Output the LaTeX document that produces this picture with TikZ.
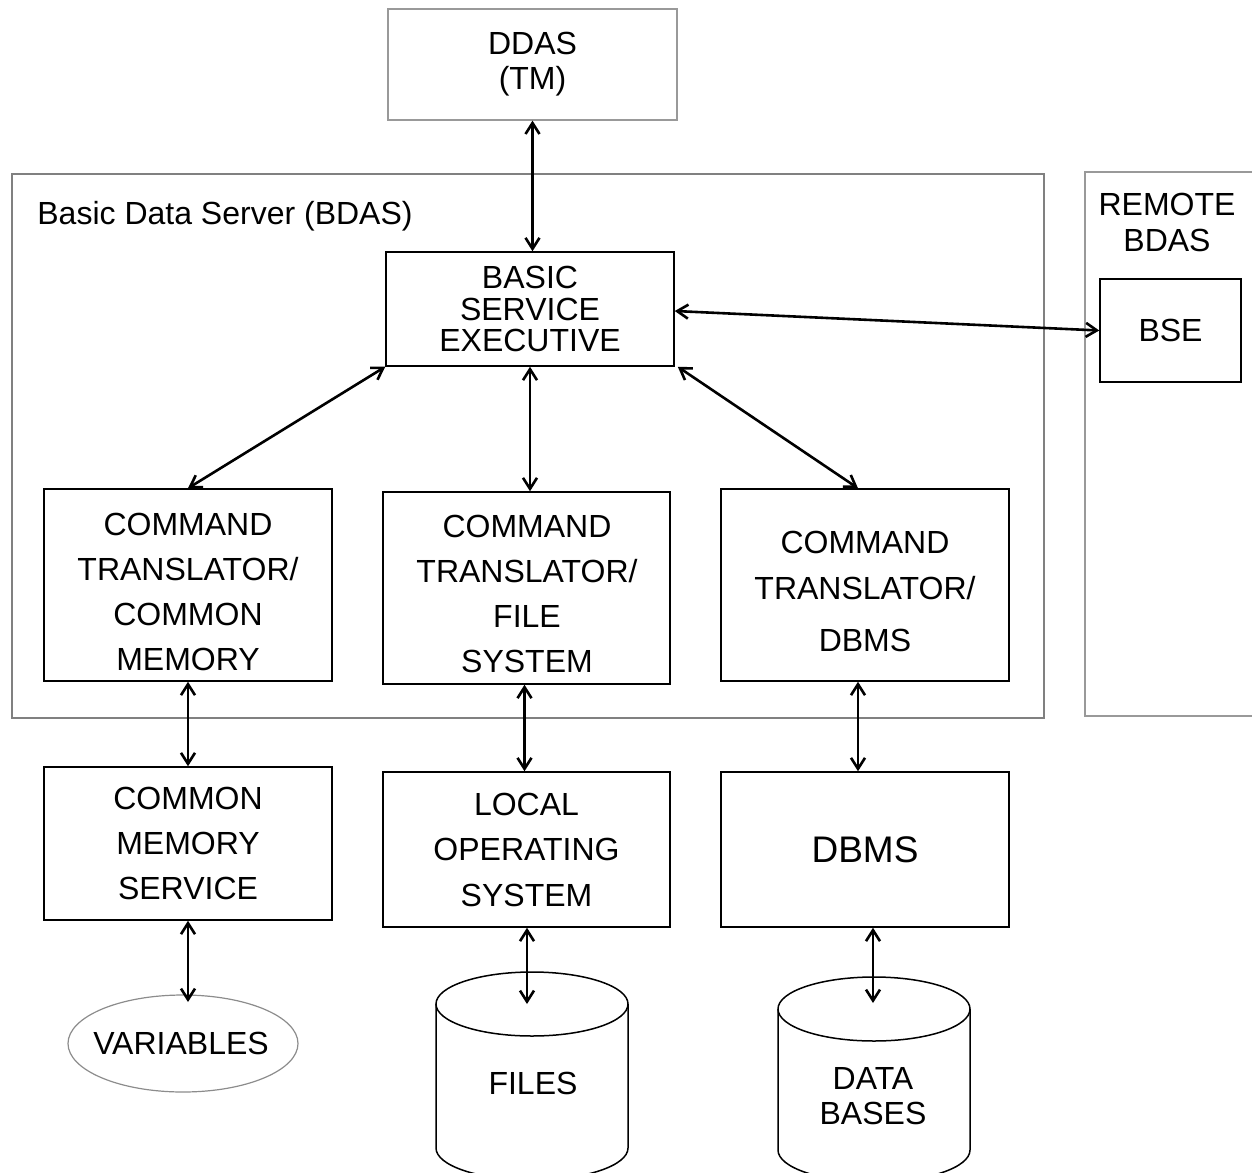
\documentclass[tikz,border=0pt]{standalone}
\usepackage{fontspec}
\setmainfont{Liberation Sans}
\usetikzlibrary{arrows.meta,calc,shapes.geometric}

\begin{document}
\begin{tikzpicture}[x=0.5pt,y=-0.5pt,
  box/.style={draw=black,line width=0.75pt,inner sep=0pt},
  graybox/.style={draw=black!40,line width=0.6pt,inner sep=0pt},
  frame/.style={draw=black!50,line width=1.3pt,inner sep=0pt},
  rframe/.style={draw=black!40,line width=0.8pt,inner sep=0pt},
  lbl/.style={align=center,inner sep=0pt,font=\fontsize{16}{#1}\selectfont},
  lbl/.default=22.5,
  cyl/.style={draw=black,line width=0.75pt},
  link/.style={line width=1.3pt,
    {Straight Barb[length=5.5pt,width=7pt]}-{Straight Barb[length=5.5pt,width=7pt]}},
]
\useasboundingbox (0,0) rectangle (1252,1172);

% outer frames
\node[frame, minimum width=516pt, minimum height=272pt] (bdas) at (528,446) {};
\node[lbl, anchor=base west] (bdaslabel) at (37,224) {Basic Data Server (BDAS)};
\node[rframe, minimum width=107.5pt, minimum height=272pt] (remote) at (1192.5,444) {};
\node[lbl=18] (remotelabel) at (1167,222) {REMOTE\\BDAS};

% top level
\node[graybox, lbl=17.5, minimum width=144.5pt, minimum height=55.5pt] (ddas) at (532.5,64.5) {DDAS\\(TM)};
\node[box, lbl=15.75, minimum width=144pt, minimum height=57pt] (bse) at (530,309) {BASIC\\SERVICE\\EXECUTIVE};
\node[box, lbl, minimum width=70.5pt, minimum height=51.5pt] (rbse) at (1170.5,330.5) {BSE};

% command translators
\node[box, minimum width=144pt, minimum height=96pt] (ct1) at (188,585) {};
\node[lbl] (ct1text) at (188,591.5) {COMMAND\\TRANSLATOR/\\COMMON\\MEMORY};
\node[box, minimum width=143.5pt, minimum height=96pt] (ct2) at (526.5,588) {};
\node[lbl] (ct2text) at (527,593.5) {COMMAND\\TRANSLATOR/\\FILE\\SYSTEM};
\node[box, minimum width=144pt, minimum height=96pt] (ct3) at (865,585) {};
\node[lbl=23] (ct3text) at (865,591) {COMMAND\\TRANSLATOR/\\[3pt]DBMS};

% local services
\node[box, lbl, minimum width=144pt, minimum height=76.5pt] (cms) at (188,843.5) {COMMON\\MEMORY\\SERVICE};
\node[box, lbl=22.75, minimum width=143.5pt, minimum height=77.5pt] (los) at (526.5,849.5) {LOCAL\\OPERATING\\SYSTEM};
\node[box, inner sep=0pt, font=\fontsize{18.5}{22}\selectfont, minimum width=144pt, minimum height=77.5pt] (dbms) at (865,849.5) {DBMS};

% storage
\node[ellipse, draw=black!45, line width=0.6pt, inner sep=0pt,
      minimum width=115pt, minimum height=48.5pt] (vars) at (183,1043.5) {};
\node[lbl] (varstext) at (181,1043.5) {VARIABLES};
\coordinate (vartip) at (188,1002);

\draw[cyl] (532,1004) ellipse [x radius=96, y radius=32];
\draw[cyl] (436,1004) -- (436,1148) arc[start angle=180, end angle=0, x radius=96, y radius=32] -- (628,1004);
\coordinate (filestop) at (527,1004);
\node[lbl] (files) at (533,1083) {FILES};

\draw[cyl] (874,1009) ellipse [x radius=96, y radius=32];
\draw[cyl] (778,1009) -- (778,1150) arc[start angle=180, end angle=0, x radius=96, y radius=32] -- (970,1009);
\coordinate (dbtop) at (873,1003);
\node[lbl=17.5] (databases) at (873,1096.5) {DATA\\BASES};

% connectors
\draw[link] (ddas.south) -- (ddas.south |- bse.north);
\draw[link] ($(bse.east)+(0,2)$) -- (rbse.west);
\draw[link] (bse.south west) -- (ct1.north);
\draw[link] (bse.south) -- (bse.south |- ct2.north);
\draw[link] ($(bse.south east)+(3,0)$) -- ($(ct3.north)+(-7,0)$);
\draw[link] (ct1.south) -- (cms.north);
\draw[link] ($(ct2.south)+(-2,0)$) -- ($(los.north)+(-2,0)$);
\draw[link] ($(ct3.south)+(-7,0)$) -- ($(dbms.north)+(-7,0)$);
\draw[link] (cms.south) -- (cms.south |- vartip);
\draw[link] (los.south -| filestop) -- (filestop);
\draw[link] (dbms.south -| dbtop) -- (dbtop);
\end{tikzpicture}
\end{document}
